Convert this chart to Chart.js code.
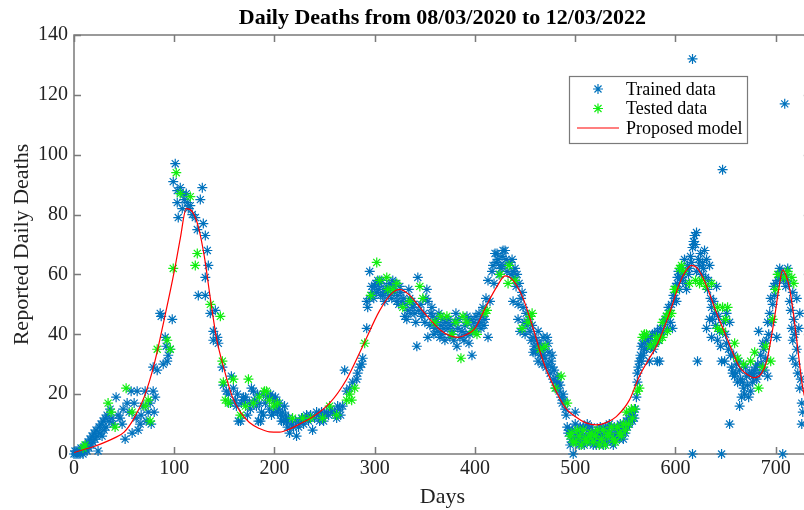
<!DOCTYPE html>
<html>
<head>
<meta charset="utf-8">
<title>Daily Deaths</title>
<script src="https://cdn.jsdelivr.net/npm/chart.js@4.4.1/dist/chart.umd.min.js"></script>
<style>
  html, body { margin: 0; padding: 0; background: #fff; overflow: hidden; }
  #wrap { width: 817px; height: 510px; }
</style>
</head>
<body>
<div id="wrap"><canvas id="chart" width="817" height="510"></canvas></div>
<script>
'use strict';

// [day, reported deaths]
const trainedData = [
  [0,0],[1,1],[2,0],[3,1],[4,0],[5,1],[6,0],[7,2],[8,1],[9,0],[10,1],[11,2],[12,3],[13,1],[14,4],[15,2],[16,5],[17,3],[18,6],[19,4],
  [20,7],[21,5],[22,8],[23,6],[24,1],[25,9],[26,7],[27,10],[28,6],[29,11],[30,8],[31,12],[32,9],[33,13],[35,11],[36,15],[38,12],[39,10],
  [42,19],[44,13],[46,12],[48,10],[49,15],[51,5],[53,17],[55,14],[57,21],[58,7],[60,17],[62,12],[63,21],[64,8],[66,10],[67,13],[69,16],
  [71,21],[72,11],[74,14],[76,17],[77,10],[79,21],[80,14],[81,19],[79,29],[83,28],[86,47],[87,46],[89,30],[91,39],[92,36],[93,31],[94,33],
  [96,35],[98,45],[99,91],[101,97],[103,88],[103,84],[104,79],[106,89],[108,82],[109,87],[110,85],[112,87],[113,84],[114,82],[116,83],
  [118,80],[121,79],[123,75],[124,53],[126,85],[128,89],[129,77],[131,73],[131,59],[131,53],[133,68],[134,63],[136,47],[139,41],[139,38],
  [141,48],[143,39],[144,37],[148,29],[149,23],[152,21],[154,20],[156,17],[157,26],[159,22],[161,18],[162,16],[163,20],[164,11],[166,11],
  [167,17],[169,19],[170,18],[171,19],[173,13],[175,17],[176,15],[177,22],[179,21],[180,18],[182,16],[183,20],[184,11],[185,17],[186,11],
  [187,14],[189,20],[189,13],[191,17],[193,19],[195,15],[196,20],[197,13],[198,19],[199,14],[200,18],[201,19],[202,16],[203,14],[204,15],
  [205,17],[206,13],[207,11],[208,14],[209,11],[210,16],[211,13],[212,11],[213,9],[214,12],[215,7],[217,10],[219,9],[221,11],[222,6],
  [224,9],[225,11],[227,12],[229,10],[231,12],[232,13],[234,11],[236,13],[238,8],[240,12],[242,14],[244,13],[245,11],[247,14],[249,11],
  [250,13],[252,14],[254,13],[256,15],[258,14],[260,14],[262,12],[263,16],[265,15],[266,13],[268,16],[270,28],[272,21],[275,22],[278,24],
  [282,25],[283,27],[285,29],[287,30],[288,32],[292,42],[292,51],[293,49],[295,52],[295,61],[297,56],[298,54],[299,52],[300,56],[301,57],
  [302,54],[303,58],[304,55],[305,57],[306,53],[307,58],[308,53],[309,55],[310,51],[311,54],[312,56],[314,53],[315,57],[316,55],[317,52],
  [318,58],[319,56],[320,54],[321,57],[322,51],[323,53],[324,50],[325,56],[326,54],[327,51],[329,52],[330,46],[331,50],[332,45],[333,48],
  [334,55],[335,52],[336,47],[337,51],[338,49],[339,50],[340,47],[341,44],[342,36],[343,59],[344,48],[346,50],[347,46],[349,47],[350,44],
  [351,52],[352,55],[353,51],[353,39],[355,43],[356,47],[357,49],[358,46],[359,40],[360,42],[361,44],[362,45],[363,41],[364,47],[365,39],
  [366,43],[367,40],[368,45],[369,42],[370,38],[371,44],[373,42],[374,45],[375,39],[376,43],[378,41],[379,38],[380,44],[381,47],[382,36],
  [383,42],[384,45],[385,39],[387,41],[389,38],[390,43],[391,40],[392,46],[393,44],[394,37],[395,40],[396,45],[397,33],[398,42],[399,44],
  [400,41],[401,46],[403,43],[404,47],[405,44],[406,42],[407,46],[408,49],[409,43],[410,45],[411,52],[413,39],[413,58],[415,51],[417,61],
  [418,63],[419,57],[420,67],[421,64],[422,67],[423,65],[424,60],[425,63],[426,62],[427,66],[428,68],[429,63],[430,68],[431,65],[432,61],
  [435,64],[436,60],[437,65],[438,61],[438,51],[439,59],[440,62],[441,56],[442,60],[443,50],[443,45],[444,57],[445,41],[446,52],[447,54],
  [448,49],[449,44],[450,40],[451,47],[452,43],[454,45],[455,41],[456,38],[457,43],[458,39],[458,34],[459,36],[460,34],[461,38],[462,35],
  [463,31],[463,41],[464,37],[465,33],[466,36],[467,30],[468,33],[468,39],[469,35],[470,32],[471,29],[472,39],[473,37],[473,30],[474,34],
  [475,27],[476,31],[477,33],[477,29],[478,25],[479,28],[480,24],[481,22],[482,26],[483,24],[484,21],[485,23],[486,19],[487,17],[488,20],
  [489,18],[490,15],[491,13],[492,9],[493,7],[494,8],[495,3],[496,5],[497,8],[498,0],[499,6],[500,14],[500,10],[501,4],[502,5],[503,7],
  [504,3],[505,9],[506,7],[507,5],[508,9],[509,3],[510,4],[511,6],[512,10],[513,8],[514,5],[515,4],[516,9],[517,7],[518,3],[519,5],[520,7],
  [521,3],[522,4],[523,6],[524,8],[525,9],[526,6],[527,4],[528,3],[529,7],[530,9],[531,5],[532,4],[533,8],[534,10],[535,6],[536,7],[537,4],
  [538,3],[539,9],[540,5],[541,6],[542,8],[543,8],[544,5],[545,10],[546,9],[547,7],[548,5],[549,9],[550,7],[551,11],[552,9],[553,12],
  [554,10],[555,13],[556,14],[557,11],[558,13],[559,12],[560,15],[561,19],[562,24],[562,27],[563,29],[564,31],[565,33],[566,36],[566,31],
  [567,37],[568,33],[569,35],[570,38],[571,35],[572,38],[573,37],[574,31],[575,39],[576,36],[577,40],[578,35],[579,40],[580,37],[581,39],
  [582,31],[582,41],[583,38],[584,31],[585,42],[586,40],[588,41],[589,44],[590,45],[591,46],[592,42],[593,49],[594,48],[595,44],[596,50],
  [597,42],[598,53],[599,52],[600,56],[601,51],[602,59],[602,57],[603,61],[604,55],[605,59],[606,62],[607,58],[608,60],[609,65],[610,57],
  [611,55],[612,63],[613,60],[614,62],[615,66],[616,64],[617,69],[617,132],[617,0],[618,71],[619,73],[620,70],[621,74],[621,61],[622,31],
  [623,65],[624,63],[625,67],[626,60],[627,64],[628,62],[629,68],[630,59],[631,65],[631,42],[632,55],[633,58],[634,63],[634,45],[635,52],
  [636,49],[636,39],[637,45],[638,51],[639,47],[640,43],[641,56],[642,38],[643,46],[644,41],[645,36],[646,31],[646,0],[647,95],[648,44],
  [649,31],[650,40],[651,47],[651,37],[653,35],[654,10],[654,44],[655,33],[656,29],[657,27],[658,33],[659,26],[660,27],[661,30],[662,24],
  [663,31],[664,28],[664,16],[665,25],[666,19],[667,24],[668,22],[669,20],[670,29],[671,26],[672,23],[673,19],[674,27],[675,21],[676,27],
  [677,24],[678,26],[679,28],[680,29],[681,25],[682,30],[683,41],[684,27],[685,33],[686,30],[687,37],[688,35],[689,28],[690,32],[691,38],
  [692,26],[692,44],[693,40],[694,47],[695,52],[696,44],[697,50],[698,56],[699,53],[700,57],[701,39],[702,58],[703,60],[704,62],[705,59],
  [706,61],[707,0],[708,58],[709,117],[710,56],[711,59],[712,62],[713,57],[714,51],[715,48],[716,42],[717,54],[717,38],[717,32],[718,45],
  [719,40],[720,30],[721,52],[721,35],[722,27],[723,42],[724,47],[724,22],[725,25],[726,17],[726,10],[727,14]
];

const testedData = [
  [9,2],[11,3],[34,17],[37,14],[41,9],[52,22],[58,14],[71,16],[74,18],[76,11],[83,35],[93,38],[96,35],[99,62],[102,94],[106,87],[116,86],
  [121,63],[123,67],[136,50],[146,46],[148,31],[149,24],[151,18],[154,17],[159,25],[166,13],[171,16],[174,25],[179,17],[185,19],[190,21],
  [192,21],[195,18],[199,16],[203,17],[218,12],[228,12],[236,12],[248,12],[255,16],[262,13],[272,18],[275,20],[277,18],[280,22],[290,37],
  [296,53],[302,64],[305,58],[312,59],[313,55],[318,55],[322,57],[328,49],[335,51],[345,56],[348,52],[360,44],[366,46],[372,46],[377,40],
  [381,44],[386,32],[388,46],[392,44],[398,41],[402,40],[410,47],[412,48],[425,60],[433,57],[434,63],[440,58],[447,42],[453,44],[455,46],
  [457,47],[465,35],[470,36],[480,22],[486,26],[492,17],[495,6],[496,7],[498,4],[500,4],[502,8],[504,6],[506,3],[508,8],[510,5],[512,4],
  [514,6],[516,7],[518,4],[520,6],[522,8],[524,3],[526,5],[528,8],[530,3],[532,6],[534,7],[536,9],[538,5],[540,4],[542,9],[544,7],[546,6],
  [548,10],[550,8],[551,14],[553,10],[556,15],[557,12],[559,15],[562,21],[564,22],[567,39],[569,40],[571,40],[575,36],[579,37],[581,39],
  [584,38],[587,39],[587,44],[591,46],[592,41],[594,47],[596,47],[599,55],[600,55],[604,62],[606,63],[608,61],[614,57],[620,58],[624,57],
  [626,58],[630,56],[636,57],[642,42],[642,49],[647,49],[647,41],[650,45],[652,49],[659,37],[662,32],[668,30],[675,31],[679,34],[683,22],
  [687,29],[690,36],[695,31],[697,45],[700,55],[702,60],[709,59],[712,61],[716,59],[718,57]
];

const modelCurve = [
  [0,0.5],[10,1.5],[20,2.5],[30,3.8],[40,5.3],[50,7.3],[60,12],[70,19],[80,30],[90,45],[100,61],[106,72],[112,82],[118,81],[124,76],
  [130,66],[136,52],[142,39],[150,28],[158,19],[166,14],[175,10.5],[185,8.5],[195,7.4],[205,7.3],[215,8.3],[225,10],[238,12.4],[255,17],
  [272,25],[288,36],[305,48],[318,54],[325,55],[335,53],[345,49],[355,45],[365,41.5],[375,39.5],[383,39],[392,40],[400,42],[412,50],
  [422,56],[430,59.5],[438,58],[448,52],[458,42],[468,31],[478,23],[490,15.5],[500,12.5],[510,10.5],[521,9.7],[531,10.5],[541,12.5],
  [554,18],[564,26],[574,32],[581,36],[594,47],[604,57],[610,61],[616,63],[622,62],[630,57],[640,48],[651,39],[664,29],[672,26.5],
  [679,25.5],[686,27],[691,31],[699,46],[703,55],[707,61.5],[711,59],[714,55],[718,46],[721,38],[727,22],[735,12]
];

const xTicks = [0, 100, 200, 300, 400, 500, 600, 700];
const yTicks = [0, 20, 40, 60, 80, 100, 120, 140];

const serif = "'Liberation Serif', 'Times New Roman', serif";
const toXY = arr => arr.map(p => ({x: p[0], y: p[1]}));

// box round the axes with ticks pointing inwards, like the original figure
const boxPlugin = {
  id: 'boxPlugin',
  beforeDatasetsDraw(chart) {
    const {ctx, chartArea: a, scales: {x, y}} = chart;
    ctx.save();
    ctx.strokeStyle = '#7a7a7a';
    ctx.lineWidth = 1.5;
    ctx.strokeRect(a.left, a.top, a.right - a.left, a.bottom - a.top);
    ctx.beginPath();
    xTicks.forEach(v => {
      const px = Math.round(x.getPixelForValue(v)) + 0.5;
      ctx.moveTo(px, a.bottom); ctx.lineTo(px, a.bottom - 7);
      ctx.moveTo(px, a.top); ctx.lineTo(px, a.top + 7);
    });
    yTicks.forEach(v => {
      const py = Math.round(y.getPixelForValue(v)) + 0.5;
      ctx.moveTo(a.left, py); ctx.lineTo(a.left + 7, py);
      ctx.moveTo(a.right, py); ctx.lineTo(a.right - 7, py);
    });
    ctx.stroke();
    ctx.restore();
  }
};

const legendPlugin = {
  id: 'legendPlugin',
  afterDraw(chart) {
    const {ctx} = chart;
    const left = 569, top = 76, w = 178, h = 67;
    ctx.save();
    ctx.fillStyle = '#fff';
    ctx.fillRect(left, top, w, h);
    ctx.strokeStyle = '#7a7a7a';
    ctx.lineWidth = 1.2;
    ctx.strokeRect(left + 0.5, top + 0.5, w, h);
    ctx.font = '18px ' + serif;
    ctx.textBaseline = 'middle';
    const order = ['Trained data', 'Tested data', 'Proposed model'];
    order.forEach((label, i) => {
      const ds = chart.data.datasets.find(d => d.label === label);
      const cy = top + 13 + i * 19.5;
      ctx.strokeStyle = ds.borderColor;
      ctx.lineWidth = ds.borderWidth;
      if (ds.type === 'line') {
        ctx.beginPath();
        ctx.moveTo(left + 8, cy); ctx.lineTo(left + 50, cy);
        ctx.stroke();
      } else {
        Chart.helpers.drawPoint(ctx, {pointStyle: 'star', radius: ds.pointRadius, borderWidth: ds.borderWidth}, left + 29, cy);
      }
      ctx.fillStyle = '#000';
      ctx.fillText(label, left + 57, cy + 1);
    });
    ctx.restore();
  }
};

new Chart(document.getElementById('chart'), {
  type: 'scatter',
  data: {
    datasets: [
      {
        label: 'Proposed model',
        type: 'line',
        data: toXY(modelCurve),
        borderColor: '#ff0000',
        borderWidth: 1.2,
        pointRadius: 0,
        cubicInterpolationMode: 'monotone',
        fill: false,
        order: 0
      },
      {
        label: 'Tested data',
        data: toXY(testedData),
        pointStyle: 'star',
        pointRadius: 5,
        borderColor: '#10ee10',
        backgroundColor: '#10ee10',
        borderWidth: 1.2,
        clip: false,
        order: 1
      },
      {
        label: 'Trained data',
        data: toXY(trainedData),
        pointStyle: 'star',
        pointRadius: 5,
        borderColor: '#0072bd',
        backgroundColor: '#0072bd',
        borderWidth: 1.2,
        clip: false,
        order: 2
      }
    ]
  },
  options: {
    responsive: false,
    animation: false,
    layout: {padding: {left: 0, right: 1, top: 0, bottom: 0}},
    plugins: {
      legend: {display: false},
      tooltip: {enabled: false},
      title: {
        display: true,
        fullSize: false,
        text: 'Daily Deaths from 08/03/2020 to 12/03/2022',
        color: '#000',
        font: {family: serif, size: 22, weight: 'bold'},
        padding: {top: 5, bottom: 3.6}
      }
    },
    scales: {
      x: {
        type: 'linear',
        min: 0,
        max: 735,
        grid: {display: false, drawTicks: false},
        border: {display: false},
        afterBuildTicks: s => { s.ticks = xTicks.map(v => ({value: v})); },
        afterFit: s => { s.height = 56; },
        ticks: {padding: 3, color: '#222', font: {family: serif, size: 20}},
        title: {display: true, text: 'Days', color: '#222', font: {family: serif, size: 22}, padding: {top: 0, bottom: 0}}
      },
      y: {
        min: 0,
        max: 140,
        grid: {display: false, drawTicks: false},
        border: {display: false},
        afterBuildTicks: s => { s.ticks = yTicks.map(v => ({value: v})); },
        afterFit: s => { s.width = 74; },
        ticks: {padding: 6, color: '#222', font: {family: serif, size: 20}},
        title: {display: true, text: 'Reported Daily Deaths', color: '#222', font: {family: serif, size: 22}, padding: {top: 9, bottom: 0}}
      }
    }
  },
  plugins: [boxPlugin, legendPlugin]
});
</script>
</body>
</html>
